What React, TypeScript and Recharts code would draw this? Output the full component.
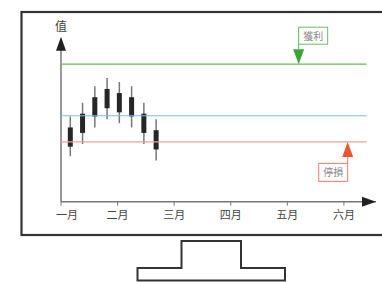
import { ComposedChart, XAxis, YAxis, Bar, ReferenceLine, ReferenceDot } from "recharts";

// candle positions (days since start) and prices
const days = [5, 11.5, 18, 24.5, 31, 37.5, 44, 50.5];
const highs = [62, 72, 84, 90, 87, 84, 72, 60];
const lows = [33, 42, 54, 60, 57, 54, 42, 30];
const opens = [40, 50, 62, 68, 65, 62, 50, 38];
const closes = [54, 64, 76, 82, 79, 76, 64, 52];

const monthTicks = [0, 30, 60, 90, 120, 150];
const monthLabels = ["一月", "二月", "三月", "四月", "五月", "六月"];

const takeProfit = 100;
const entry = 62.5;
const stopLoss = 43.5;

const data = days.map((d, i) => ({
  day: d,
  range: [lows[i], highs[i]],
  open: opens[i],
  close: closes[i],
}));

const FONT = "'Noto Sans CJK TC', 'Noto Sans CJK SC', sans-serif";

const Candle = (props: any) => {
  const { x, y, width, height, payload } = props;
  const [lo, hi] = payload.range;
  const toY = (v: number) => y + ((hi - v) / (hi - lo)) * height;
  const top = toY(Math.max(payload.open, payload.close));
  const bot = toY(Math.min(payload.open, payload.close));
  const cx = x + width / 2;
  return (
    <g>
      <line x1={cx} x2={cx} y1={y} y2={y + height} stroke="#777" strokeWidth={1.5} />
      <rect x={cx - 2.5} y={top} width={5} height={bot - top} fill="#262626" />
    </g>
  );
};

const MonthTick = (props: any) => {
  const { x, y, payload, index } = props;
  return (
    <text
      x={x + (index === 0 ? 6 : 0)}
      y={y}
      dy={11}
      textAnchor="middle"
      fontSize={11}
      fill="#444"
      fontFamily={FONT}
    >
      {monthLabels[index] ?? payload.value}
    </text>
  );
};

const XArrow = (props: any) => {
  const { cx, cy } = props;
  return <path d={`M${cx},${cy} L${cx - 14},${cy - 5} L${cx - 14},${cy + 5} Z`} fill="#222" />;
};

const YArrow = (props: any) => {
  const { cx, cy } = props;
  return (
    <g>
      <path d={`M${cx},${cy} L${cx - 5},${cy + 14} L${cx + 5},${cy + 14} Z`} fill="#222" />
      <text x={cx} y={cy - 6} textAnchor="middle" fontSize={12} fill="#444" fontFamily={FONT}>
        值
      </text>
    </g>
  );
};

const ProfitMark = (props: any) => {
  const { cx, cy } = props;
  return (
    <g>
      <path d={`M${cx},${cy} L${cx - 5.5},${cy - 15} L${cx + 5.5},${cy - 15} Z`} fill="#3aa333" />
      <line x1={cx} x2={cx} y1={cy - 15} y2={cy - 36} stroke="#5cb85c" strokeWidth={1} />
      <rect x={cx} y={cy - 37} width={29} height={17} fill="#fff" stroke="#6cbc6c" strokeWidth={1} />
      <text x={cx + 14.5} y={cy - 24.5} textAnchor="middle" fontSize={10} fill="#888" fontFamily={FONT}>
        獲利
      </text>
    </g>
  );
};

const StopMark = (props: any) => {
  const { cx, cy } = props;
  return (
    <g>
      <path d={`M${cx},${cy} L${cx - 5.5},${cy + 15} L${cx + 5.5},${cy + 15} Z`} fill="#ea5630" />
      <line x1={cx} x2={cx} y1={cy + 15} y2={cy + 22} stroke="#ef7a5c" strokeWidth={1} />
      <rect x={cx - 29} y={cy + 21.5} width={29} height={18} fill="#fff" stroke="#f07a66" strokeWidth={1} />
      <text x={cx - 14.5} y={cy + 34.5} textAnchor="middle" fontSize={10} fill="#888" fontFamily={FONT}>
        停損
      </text>
    </g>
  );
};

export default function App() {
  return (
    <div style={{ position: "absolute", left: 0, top: 0, width: 382, height: 282, overflow: "hidden", background: "#fff" }}>
      <svg width={382} height={282} style={{ position: "absolute", left: 0, top: 0 }}>
        <rect x={21.5} y={12} width={420} height={223} fill="none" stroke="#333" strokeWidth={2.2} />
        <path
          d="M137.5,280.5 L137.5,268 L181.5,268 L181.5,241 L241,241 L241,268 L285,268 L285,280.5 Z"
          fill="none"
          stroke="#333"
          strokeWidth={2}
        />
      </svg>
      <div style={{ position: "absolute", left: 0, top: 0 }}>
        <ComposedChart
          width={382}
          height={282}
          data={data}
          margin={{ top: 36.7, right: 6, bottom: 60.3, left: 61 }}
        >
          <XAxis
            type="number"
            dataKey="day"
            domain={[0, 167]}
            ticks={monthTicks}
            tick={<MonthTick />}
            tickSize={4}
            tickLine={{ stroke: "#777" }}
            axisLine={{ stroke: "#777", strokeWidth: 1.5 }}
            height={20}
            allowDataOverflow
          />
          <YAxis type="number" domain={[0, 120]} hide allowDataOverflow />
          <ReferenceLine segment={[{ x: 0, y: 0 }, { x: 0, y: 112 }]} stroke="#777" strokeWidth={1.5} ifOverflow="visible" />
          <ReferenceLine segment={[{ x: 0, y: takeProfit }, { x: 162, y: takeProfit }]} stroke="#66bb55" strokeWidth={1.2} />
          <ReferenceLine segment={[{ x: 0, y: entry }, { x: 162, y: entry }]} stroke="#7fb9e6" strokeWidth={1.2} />
          <ReferenceLine segment={[{ x: 0, y: stopLoss }, { x: 162, y: stopLoss }]} stroke="#f2a090" strokeWidth={1.2} />
          <Bar dataKey="range" barSize={6} shape={<Candle />} isAnimationActive={false} />
          <ReferenceDot x={167} y={0} r={0} shape={<XArrow />} ifOverflow="visible" />
          <ReferenceDot x={0} y={120} r={0} shape={<YArrow />} ifOverflow="visible" />
          <ReferenceDot x={126} y={takeProfit} r={0} shape={<ProfitMark />} ifOverflow="visible" />
          <ReferenceDot x={152} y={stopLoss} r={0} shape={<StopMark />} ifOverflow="visible" />
        </ComposedChart>
      </div>
    </div>
  );
}
